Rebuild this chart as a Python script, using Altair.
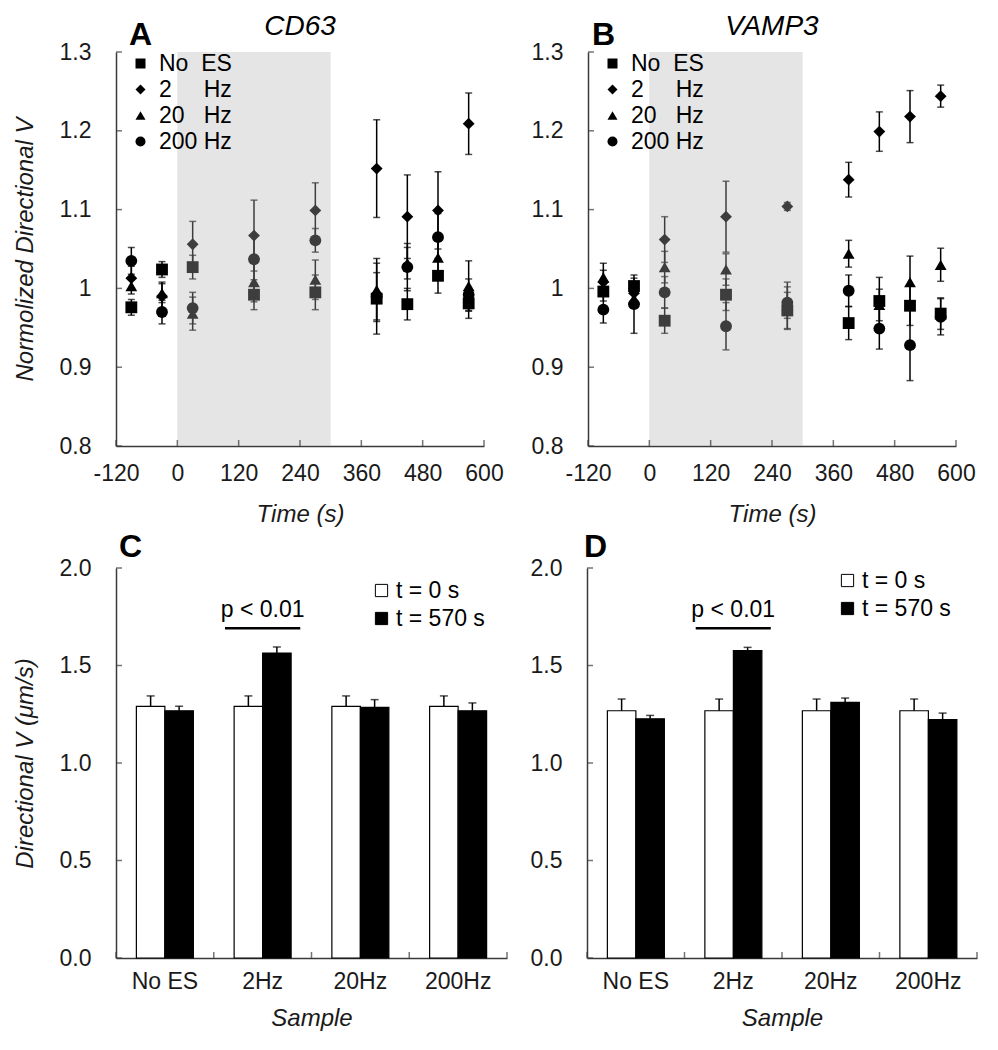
import altair as alt
import pandas as pd

# ---------------- data ----------------
times = [-90, -30, 30, 150, 270, 390, 450, 510, 570]
conditions = ["No\u00a0\u00a0ES", "2\u00a0\u00a0\u00a0\u00a0\u00a0Hz", "20\u00a0\u00a0\u00a0Hz", "200\u00a0Hz"]
shapes = ["square", "diamond", "triangle-up", "circle"]
x_ticks = [-120, 0, 120, 240, 360, 480, 600]
y_ticks_ts = [0.8, 0.9, 1.0, 1.1, 1.2, 1.3]
stim_start = [0]
stim_end = [300]

# CD63 (panel A)
cd63_noes = [0.976, 1.024, 1.027, 0.992, 0.995, 0.987, 0.980, 1.016, 0.981]
cd63_noes_err = [0.010, 0.010, 0.015, 0.019, 0.022, 0.045, 0.020, 0.022, 0.019]
cd63_2hz = [1.013, 0.990, 1.056, 1.067, 1.099, 1.152, 1.091, 1.099, 1.209]
cd63_2hz_err = [0.015, 0.018, 0.029, 0.045, 0.035, 0.062, 0.053, 0.049, 0.039]
cd63_20hz = [1.003, 0.994, 0.968, 1.008, 1.011, 0.998, 1.032, 1.039, 1.003]
cd63_20hz_err = [0.010, 0.012, 0.021, 0.025, 0.025, 0.040, 0.020, 0.025, 0.032]
cd63_200hz = [1.035, 0.970, 0.975, 1.037, 1.061, 0.990, 1.027, 1.065, 0.992]
cd63_200hz_err = [0.017, 0.015, 0.020, 0.030, 0.015, 0.030, 0.030, 0.030, 0.020]

# VAMP3 (panel B)
vamp3_noes = [0.996, 1.003, 0.959, 0.992, 0.972, 0.956, 0.984, 0.978, 0.968]
vamp3_noes_err = [0.012, 0.010, 0.016, 0.020, 0.023, 0.021, 0.030, 0.025, 0.020]
vamp3_2hz = [1.008, 0.994, 1.062, 1.091, 1.104, 1.138, 1.199, 1.218, 1.244]
vamp3_2hz_err = [0.015, 0.010, 0.029, 0.045, 0.005, 0.022, 0.025, 0.033, 0.014]
vamp3_20hz = [1.014, 0.987, 1.027, 1.024, 0.978, 1.044, 0.979, 1.008, 1.030]
vamp3_20hz_err = [0.018, 0.010, 0.020, 0.020, 0.030, 0.017, 0.020, 0.033, 0.021]
vamp3_200hz = [0.973, 0.980, 0.995, 0.952, 0.982, 0.997, 0.949, 0.928, 0.964]
vamp3_200hz_err = [0.017, 0.037, 0.020, 0.030, 0.020, 0.020, 0.026, 0.045, 0.023]

# bar panels C / D
samples = ["No ES", "2Hz", "20Hz", "200Hz"]
bar_times = ["t = 0 s", "t = 570 s"]
y_ticks_bar = [0.0, 0.5, 1.0, 1.5, 2.0]
cd63_t0 = [1.29, 1.29, 1.29, 1.29]
cd63_t0_err = [0.054, 0.054, 0.054, 0.054]
cd63_t570 = [1.268, 1.564, 1.285, 1.268]
cd63_t570_err = [0.023, 0.031, 0.040, 0.040]
vamp3_t0 = [1.268, 1.268, 1.268, 1.268]
vamp3_t0_err = [0.060, 0.060, 0.060, 0.060]
vamp3_t570 = [1.227, 1.576, 1.311, 1.222]
vamp3_t570_err = [0.017, 0.017, 0.022, 0.034]
sig_sample = ["2Hz"]
sig_line_lo = [1.685]
sig_line_hi = [1.697]
sig_text_y = [1.75]
sig_text = ["p < 0.01"]

FONT = "Liberation Sans"
AXCOL = "#3a3a3a"
LBL = 23
TICK = 6


def ts_frame(series, errs):
    rows = []
    for cond, vals, es in zip(conditions, series, errs):
        for t, v, e in zip(times, vals, es):
            rows.append({"cond": cond, "t": t, "v": v, "e": e})
    return pd.DataFrame(rows)


def letter_layer(letter, lx, ly):
    return alt.Chart(pd.DataFrame({"s": [letter]})).mark_text(
        font=FONT, fontSize=32, fontWeight="bold", align="left",
        baseline="alphabetic", color="black").encode(
        text="s:N", x=alt.value(lx), y=alt.value(ly))


def ts_panel(series, errs, letter, letter_x, gene, ytitle):
    W, H = 368, 394
    df = ts_frame(series, errs)
    xs = alt.Scale(domain=[-120, 600], nice=False, zero=False)
    ys = alt.Scale(domain=[0.8, 1.3], nice=False, zero=False)
    x_main = alt.Axis(values=x_ticks, title="Time (s)", ticks=False,
                      labelPadding=16, titlePadding=17, labelFlush=False,
                      labelExpr="datum.value")
    y_main = alt.Axis(values=y_ticks_ts, title=ytitle if ytitle else None,
                      ticks=False, labelPadding=25, titlePadding=22,
                      format="~g")

    def X(f, ax=None):
        return alt.X(f, type="quantitative", scale=xs, axis=ax)

    def Y(f, ax=None):
        return alt.Y(f, type="quantitative", scale=ys, axis=ax)

    base = alt.Chart(df).transform_calculate(
        lo="datum.v - datum.e", hi="datum.v + datum.e")
    err = base.mark_rule(color="black", strokeWidth=1.5).encode(
        x=X("t", x_main), y=Y("lo", y_main), y2="hi:Q")
    cap_lo = base.mark_tick(orient="horizontal", size=7, thickness=1.5,
                            color="black").encode(x=X("t"), y=Y("lo"))
    cap_hi = base.mark_tick(orient="horizontal", size=7, thickness=1.5,
                            color="black").encode(x=X("t"), y=Y("hi"))
    pts = base.mark_point(filled=True, size=140, color="black", opacity=1).encode(
        x=X("t"), y=Y("v"),
        shape=alt.Shape("cond:N", scale=alt.Scale(domain=conditions, range=shapes),
                        legend=alt.Legend(orient="none", legendX=13, legendY=0,
                                          title=None, labelFontSize=LBL,
                                          symbolSize=100, rowPadding=2,
                                          labelOffset=7, labelFont=FONT,
                                          symbolFillColor="black",
                                          symbolStrokeWidth=0,
                                          labelColor="black")))
    shade = alt.Chart(pd.DataFrame({"s": stim_start, "e": stim_end})).mark_rect(
        color="#b4b4b4", opacity=0.34).encode(x=X("s"), x2="e:Q")
    # inward axis ticks (field based, on the axis baselines)
    xt_df = pd.DataFrame({"t": x_ticks, "base": [y_ticks_ts[0]] * len(x_ticks)})
    yt_df = pd.DataFrame({"v": y_ticks_ts, "base": [x_ticks[0]] * len(y_ticks_ts)})
    xt = alt.Chart(xt_df).mark_tick(
        orient="vertical", size=TICK, thickness=1.5, color=AXCOL,
        yOffset=-TICK / 2).encode(x=X("t"), y=Y("base"))
    yt = alt.Chart(yt_df).mark_tick(
        orient="horizontal", size=TICK, thickness=1.5, color=AXCOL,
        xOffset=TICK / 2).encode(x=X("base"), y=Y("v"))
    let = letter_layer(letter, letter_x, -7)
    gen = alt.Chart(pd.DataFrame({"s": [gene]})).mark_text(
        font=FONT, fontSize=28, fontStyle="italic", align="center",
        baseline="alphabetic", color="black").encode(
        text="s:N", x=alt.value(W / 2), y=alt.value(-17))
    return alt.layer(err, cap_lo, cap_hi, pts, shade, xt, yt, let, gen).resolve_axis(
        x="independent", y="independent").properties(width=W, height=H)


def bar_panel(t0, t0e, t570, t570e, letter, letter_x, ytitle, W, legx, legy):
    H = 390
    rows = []
    for lab, vals, es in ((bar_times[0], t0, t0e), (bar_times[1], t570, t570e)):
        for s, v, e in zip(samples, vals, es):
            rows.append({"sample": s, "time": lab, "v": v, "e": e})
    df = pd.DataFrame(rows)
    xs = alt.Scale(domain=samples, paddingInner=0, paddingOuter=0)
    ys = alt.Scale(domain=[0, 2], nice=False, zero=True)
    x_main = alt.Axis(title="Sample", labelAngle=0, ticks=False,
                      labelPadding=12, titlePadding=13)
    y_main = alt.Axis(values=y_ticks_bar, title=ytitle if ytitle else None,
                      ticks=False, labelPadding=25, titlePadding=22,
                      format=".1f")

    def X(f, ax=None, bp=None):
        if bp is None:
            return alt.X(f, type="nominal", scale=xs, axis=ax, sort=samples)
        return alt.X(f, type="nominal", scale=xs, axis=ax, sort=samples,
                     bandPosition=bp)

    def Y(f, ax=None):
        return alt.Y(f, type="quantitative", scale=ys, axis=ax)

    xo = alt.XOffset("time:N", sort=bar_times,
                     scale=alt.Scale(paddingInner=0, paddingOuter=0.715))
    base = alt.Chart(df).transform_calculate(hi="datum.v + datum.e")
    bars = base.mark_bar(stroke="black", strokeWidth=1.2).encode(
        x=X("sample", x_main), xOffset=xo, y=Y("v", y_main),
        fill=alt.Fill("time:N", scale=alt.Scale(domain=bar_times, range=["white", "black"]),
                      legend=alt.Legend(orient="none", legendX=legx, legendY=legy,
                                        title=None, labelFontSize=LBL, labelFont=FONT,
                                        symbolType="square", symbolSize=150,
                                        symbolStrokeColor="black",
                                        symbolStrokeWidth=1, rowPadding=4,
                                        labelOffset=3, labelColor="black")))
    err = base.mark_rule(color="black", strokeWidth=1.5).encode(
        x=X("sample"), xOffset=xo, y=Y("v"), y2="hi:Q")
    cap = base.mark_tick(orient="horizontal", size=8, thickness=1.5,
                         color="black").encode(x=X("sample"), xOffset=xo, y=Y("hi"))
    sig = pd.DataFrame({"sample": sig_sample, "lo": sig_line_lo, "hi": sig_line_hi,
                        "ty": sig_text_y, "txt": sig_text})
    sig_line = alt.Chart(sig).mark_bar(color="black", width={"band": 0.77}).encode(
        x=X("sample"), y=Y("lo"), y2="hi:Q")
    sig_txt = alt.Chart(sig).mark_text(font=FONT, fontSize=LBL, baseline="alphabetic",
                                       color="black").encode(
        x=X("sample"), y=Y("ty"), text="txt:N")
    # inward axis ticks: at category boundaries and at y tick values
    xt_df = pd.DataFrame({"sample": samples, "base": [y_ticks_bar[0]] * len(samples)})
    yt_df = pd.DataFrame({"v": y_ticks_bar})
    xt = alt.Chart(xt_df).mark_tick(
        orient="vertical", size=TICK, thickness=1.5, color=AXCOL,
        yOffset=-TICK / 2).encode(x=X("sample", bp=0), y=Y("base"))
    xt_end = alt.Chart(xt_df.tail(1)).mark_tick(
        orient="vertical", size=TICK, thickness=1.5, color=AXCOL,
        yOffset=-TICK / 2).encode(x=X("sample", bp=1), y=Y("base"))
    yt = alt.Chart(yt_df).mark_tick(
        orient="horizontal", size=TICK, thickness=1.5, color=AXCOL,
        xOffset=TICK / 2).encode(x=alt.value(0), y=Y("v"))
    let = letter_layer(letter, letter_x, -11)
    return alt.layer(bars, err, cap, sig_line, sig_txt, xt, xt_end, yt, let).resolve_axis(
        x="independent", y="independent").properties(width=W, height=H)


pA = ts_panel([cd63_noes, cd63_2hz, cd63_20hz, cd63_200hz],
              [cd63_noes_err, cd63_2hz_err, cd63_20hz_err, cd63_200hz_err],
              "A", 13, "CD63", "Normolized Directional V")
pB = ts_panel([vamp3_noes, vamp3_2hz, vamp3_20hz, vamp3_200hz],
              [vamp3_noes_err, vamp3_2hz_err, vamp3_20hz_err, vamp3_200hz_err],
              "B", 4, "VAMP3", None)
pC = bar_panel(cd63_t0, cd63_t0_err, cd63_t570, cd63_t570_err, "C", 3,
               "Directional V (\u03bcm/s)", 391, 254, 11)
pD = bar_panel(vamp3_t0, vamp3_t0_err, vamp3_t570, vamp3_t570_err, "D", -3,
               None, 390, 249, 1)

row1 = alt.hconcat(pA, pB, spacing=27).resolve_scale(shape="independent")
row2 = alt.hconcat(pC, pD, spacing=22).resolve_scale(fill="independent")

chart = alt.vconcat(row1, row2, spacing=5).configure(font=FONT).configure_view(
    stroke=None).configure_axis(
    grid=False, zindex=1, domainColor=AXCOL, domainWidth=1.5, tickColor=AXCOL,
    tickWidth=1.5, labelFont=FONT, labelFontSize=LBL, labelColor="#1a1a1a",
    titleFont=FONT, titleFontSize=24, titleFontStyle="italic",
    titleFontWeight="normal", titleColor="#1a1a1a"
)

chart.save("out.html", embed_options={"renderer": "svg", "actions": False})
